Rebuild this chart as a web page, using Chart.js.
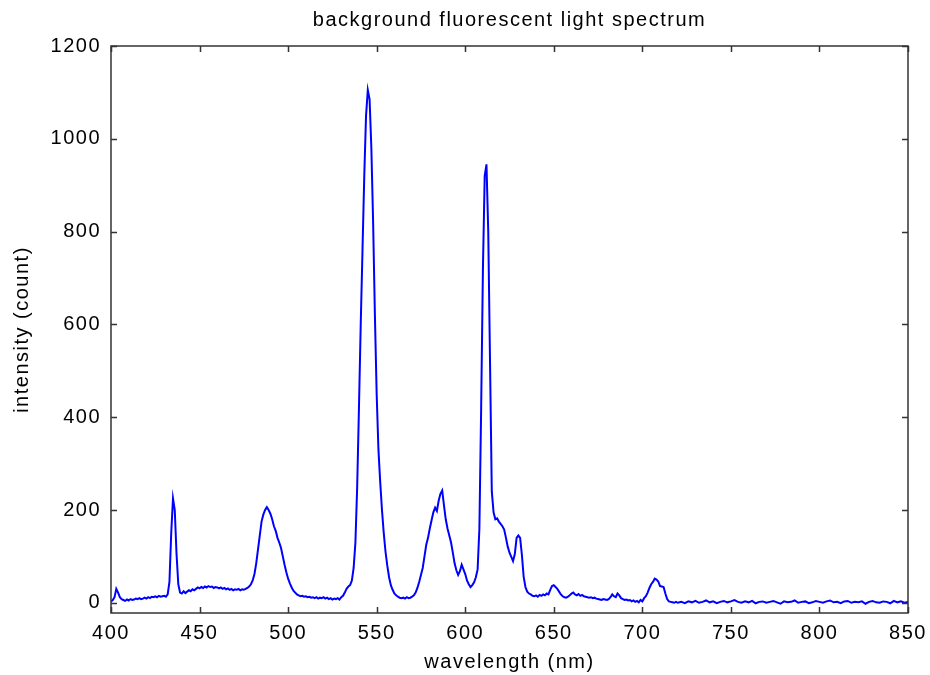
<!DOCTYPE html>
<html>
<head>
<meta charset="utf-8">
<script src="https://cdn.jsdelivr.net/npm/chart.js@4.4.1/dist/chart.umd.min.js"></script>
<style>
  html, body { margin: 0; padding: 0; background: #fff; }
  canvas { display: block; }
</style>
</head>
<body>
<canvas id="spectrum" width="930" height="675"></canvas>
<script>
// wavelength (nm) and intensity (count)
const wavelength = [
  400,401,402,403,404,405,406,407,408,409,410,411,412,413,414,415,416,417,418,419,
  420,421,422,423,424,425,426,427,428,429,430,431,432,433,434,435,436,437,438,439,
  440,441,442,443,444,445,446,447,448,449,450,451,452,453,454,455,456,457,458,459,
  460,461,462,463,464,465,466,467,468,469,470,471,472,473,474,475,476,477,478,479,
  480,481,482,483,484,485,486,487,488,489,490,491,492,493,494,495,496,497,498,499,
  500,501,502,503,504,505,506,507,508,509,510,511,512,513,514,515,516,517,518,519,
  520,521,522,523,524,525,526,527,528,529,530,531,532,533,534,535,536,537,538,539,
  540,541,542,543,544,545,546,547,548,549,550,551,552,553,554,555,556,557,558,559,
  560,561,562,563,564,565,566,567,568,569,570,571,572,573,574,575,576,577,578,579,
  580,581,582,583,584,585,586,587,588,589,590,591,592,593,594,595,596,597,598,599,
  600,601,602,603,604,605,606,607,608,609,610,611,612,613,614,615,616,617,618,619,
  620,621,622,623,624,625,626,627,628,629,630,631,632,633,634,635,636,637,638,639,
  640,641,642,643,644,645,646,647,648,649,650,651,652,653,654,655,656,657,658,659,
  660,661,662,663,664,665,666,667,668,669,670,671,672,673,674,675,676,677,678,679,
  680,681,682,683,684,685,686,687,688,689,690,691,692,693,694,695,696,697,698,699,
  700,701,702,703,704,705,706,707,708,709,710,711,712,713,714,715,716,717,718,719,
  720,722,724,726,728,730,732,734,736,738,740,742,744,746,748,750,752,754,756,758,
  760,762,764,766,768,770,772,774,776,778,780,782,784,786,788,790,792,794,796,798,
  800,802,804,806,808,810,812,814,816,818,820,822,824,826,828,830,832,834,836,838,
  840,842,844,846,848,850
];
const counts = [
  3,6,12,30,22,12,8,6,4,7,5,8,6,7,9,8,10,8,9,11,
  9,12,10,13,12,14,12,15,13,14,15,13,18,45,150,225,200,105,40,22,
  20,25,21,24,27,25,29,27,30,33,31,34,32,35,33,36,34,35,32,34,
  33,31,33,30,32,29,31,28,30,27,29,28,30,27,29,28,30,32,35,40,
  48,62,85,115,145,175,190,200,206,200,192,180,165,155,140,130,118,100,82,66,
  52,42,33,26,22,18,16,14,15,13,14,12,13,11,12,10,12,9,11,10,
  12,9,11,8,10,7,9,8,10,7,12,15,22,30,35,38,48,75,130,250,
  420,600,760,920,1050,1105,1085,980,820,620,450,330,260,200,150,110,80,55,38,28,
  20,16,13,11,10,11,9,12,10,11,13,16,22,32,45,60,75,100,125,140,
  160,178,195,205,198,220,235,242,210,180,160,145,130,108,85,70,60,68,82,72,
  62,48,40,34,38,44,55,72,160,420,720,920,945,800,520,240,195,180,182,175,
  170,165,158,140,121,108,99,90,105,140,145,140,103,56,34,24,20,18,15,14,
  16,13,17,15,18,16,20,18,28,36,38,34,30,24,18,14,12,11,13,16,
  20,22,18,16,19,15,17,14,13,12,11,12,10,11,9,8,7,6,8,7,
  6,8,12,18,14,12,20,16,10,8,6,7,5,6,3,5,2,4,1,6,
  3,10,14,22,32,40,45,52,50,46,36,35,34,20,8,3,2,1,0,2,
  0,2,-1,3,1,4,0,2,5,1,3,-1,2,4,1,3,6,2,0,3,
  1,4,-1,2,3,0,2,4,1,-2,3,1,2,5,0,2,3,-1,1,4,
  2,0,3,5,1,2,-1,3,4,0,2,1,3,-2,2,4,1,0,3,2,
  -1,4,1,3,0,2
];
const xTicks = [400, 450, 500, 550, 600, 650, 700, 750, 800, 850];
const yTicks = [0, 200, 400, 600, 800, 1000, 1200];

const FONT = "'Liberation Sans', Arial, sans-serif";
const AXIS = '#333333';

// MATLAB style: spaced glyphs, box round the axes with inward ticks
const spacing = {
  id: 'spacing',
  beforeUpdate(chart) { chart.ctx.letterSpacing = '1.5px'; },
  beforeDraw(chart) { chart.ctx.letterSpacing = '1.5px'; }
};

const boxTicks = {
  id: 'boxTicks',
  afterDraw(chart) {
    const { ctx, chartArea: a, scales } = chart;
    const len = 6;
    ctx.save();
    ctx.strokeStyle = AXIS;
    ctx.lineWidth = 1.5;
    ctx.strokeRect(a.left, a.top, a.right - a.left, a.bottom - a.top);
    ctx.beginPath();
    xTicks.forEach(v => {
      const x = Math.round(scales.x.getPixelForValue(v)) + 0.5;
      ctx.moveTo(x, a.bottom); ctx.lineTo(x, a.bottom - len);
      ctx.moveTo(x, a.top); ctx.lineTo(x, a.top + len);
    });
    yTicks.forEach(v => {
      const y = Math.round(scales.y.getPixelForValue(v)) + 0.5;
      ctx.moveTo(a.left, y); ctx.lineTo(a.left + len, y);
      ctx.moveTo(a.right, y); ctx.lineTo(a.right - len, y);
    });
    ctx.stroke();
    ctx.restore();
  }
};

new Chart(document.getElementById('spectrum'), {
  type: 'line',
  data: {
    datasets: [{
      data: wavelength.map((w, i) => ({ x: w, y: counts[i] })),
      borderColor: '#0000ff',
      borderWidth: 2,
      pointRadius: 0,
      tension: 0,
      fill: false
    }]
  },
  options: {
    responsive: false,
    animation: false,
    layout: { padding: { left: 0, right: 22, top: 0, bottom: 0 } },
    plugins: {
      legend: { display: false },
      tooltip: { enabled: false },
      title: {
        display: true,
        fullSize: false,
        text: 'background fluorescent light spectrum',
        color: '#000',
        font: { family: FONT, size: 20, weight: 'normal', lineHeight: 1.2 },
        padding: { top: 8, bottom: 14 }
      }
    },
    scales: {
      x: {
        type: 'linear',
        min: 400,
        max: 850,
        grid: { display: false, drawTicks: false },
        border: { display: false },
        afterBuildTicks: s => { s.ticks = xTicks.map(v => ({ value: v })); },
        ticks: { color: '#000', padding: 8, maxRotation: 0, callback: v => String(v), font: { family: FONT, size: 20 } },
        title: {
          display: true,
          text: 'wavelength (nm)',
          color: '#000',
          font: { family: FONT, size: 20, lineHeight: 1.2 },
          padding: { top: 1, bottom: 1 }
        },
        afterFit: s => { s.height = 62; s.paddingLeft = 0; s.paddingRight = 0; }
      },
      y: {
        min: -22,
        max: 1200,
        grid: { display: false, drawTicks: false },
        border: { display: false },
        afterBuildTicks: s => { s.ticks = yTicks.map(v => ({ value: v })); },
        ticks: { color: '#000', padding: 10, callback: v => String(v), font: { family: FONT, size: 20 } },
        title: {
          display: true,
          text: 'intensity (count)',
          color: '#000',
          font: { family: FONT, size: 20, lineHeight: 1.2 },
          padding: { top: 10, bottom: 0 }
        },
        afterFit: s => { s.width = 111; }
      }
    }
  },
  plugins: [spacing, boxTicks]
});
</script>
</body>
</html>
